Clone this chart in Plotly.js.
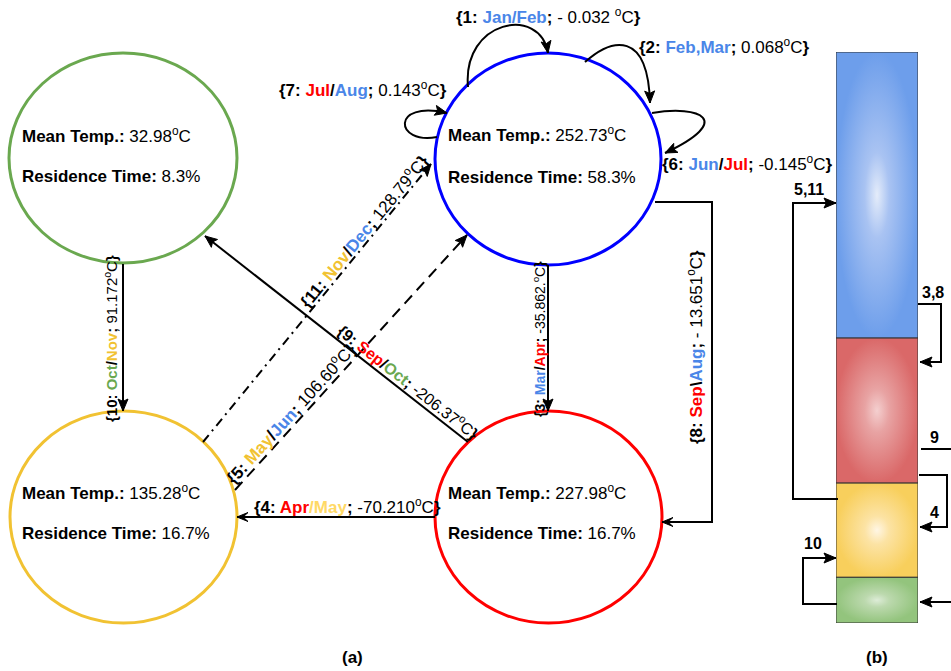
<!DOCTYPE html>
<html><head><meta charset="utf-8">
<script src="https://cdn.plot.ly/plotly-3.0.1.min.js"></script>
<style>html,body{margin:0;padding:0;background:#fff}#chart{width:951px;height:671px}</style>
</head><body><div id="chart"></div>
<script>
// ---------------- data ----------------
const stateKeys      = ['blue', 'red', 'yellow', 'green'];
const meanTemps      = ['252.73', '227.98', '135.28', '32.98'];
const residenceTimes = ['58.3', '16.7', '16.7', '8.3'];

const transIds    = [1, 2, 3, 4, 5, 6, 7, 8, 9, 10, 11];
const transFrom   = ['blue','blue','blue','red','yellow','blue','blue','blue','red','green','yellow'];
const transTo     = ['blue','blue','red','yellow','blue','blue','blue','red','green','yellow','blue'];
const transMonth1 = ['Jan','Feb','Mar','Apr','May','Jun','Jul','Sep','Sep','Oct','Nov'];
const transMonth2 = ['Feb','Mar','Apr','May','Jun','Jul','Aug','Aug','Oct','Nov','Dec'];
const transSep    = ['/', ',', '/', '/', '/', '/', '/', '\\', '/', '/', '/'];
const transDelta  = ['- 0.032 ', '0.068', '-35.862.', '-70.210', '106.60', '-0.145', '0.143', '- 13.651', '-206.37', '91.172', '128.79'];

const barStates = ['blue', 'red', 'yellow', 'green'];   // top to bottom
const barShares = [50.1, 25.4, 16.5, 8.0];               // % of bar height
const barArrowLabels = ['5,11', '3,8', '9', '4', '10'];
const panelLabels = ['(a)', '(b)'];

// ---------------- styles / layout geometry ----------------
const FONT = 'Arial, "Liberation Sans", sans-serif';
const stateColor = {blue:'#0000ff', red:'#ff0000', yellow:'#f1c232', green:'#6aa84f'};
const monthColor = {Jan:'#4a86e8',Feb:'#4a86e8',Mar:'#4a86e8',Apr:'#ff0000',May:'#f1c232',Jun:'#4a86e8',
                    Jul:'#ff0000',Aug:'#4a86e8',Sep:'#ff0000',Oct:'#6aa84f',Nov:'#f1c232',Dec:'#4a86e8'};
const monthOverride = {4: {m2:'#ffd966'}};
const nodeGeom = {
  blue:   {x0:435, x1:661, y0:53,  y1:265, tx:446, ty1:134, ty2:177},
  red:    {x0:435, x1:662, y0:411, y1:623, tx:446, ty1:492, ty2:533},
  yellow: {x0:10,  x1:237, y0:411, y1:623, tx:20,  ty1:492, ty2:533},
  green:  {x0:9,   x1:237, y0:53,  y1:263, tx:20,  ty1:135, ty2:176}
};
const gradient = {
  blue:   ['#e4ecfa', '#a9c3f2', '#6d9eeb'],
  red:    ['#f4cfcf', '#e8a3a3', '#da6868'],
  yellow: ['#fff6e4', '#fce3a4', '#f8cf5c'],
  green:  ['#ddecd7', '#bcd9ae', '#93c47d']
};
const edgeGeom = {
  1:  {path:'M468,87 C462,20 540,5 548,53', tip:[548,53], prev:[540,5]},
  2:  {path:'M585,62 C612,38 648,30 650,103', tip:[650,103], prev:[648,30]},
  3:  {path:'M548,265 L548,411', tip:[548,411], prev:[548,265]},
  4:  {path:'M435,517 L237,517', tip:[237,517], prev:[435,517], small:true},
  5:  {path:'M235,490 L467,235', tip:[467,235], prev:[235,490], dash:'11px,7px'},
  6:  {path:'M652,113 C700,105 735,120 665,153', tip:[665,153], prev:[735,120]},
  7:  {path:'M437,137 C395,145 390,100 447,113', tip:[447,113], prev:[390,100]},
  8:  {path:'M655,202 L712,202 L712,522 L662,522', tip:[662,522], prev:[712,522], small:true},
  9:  {path:'M468,442 L205,236', tip:[205,236], prev:[468,442]},
  10: {path:'M123,264 L123,411', tip:[123,411], prev:[123,264]},
  11: {path:'M203,442 L431,164', tip:[431,164], prev:[203,442], dash:'9px,5px,2px,5px'}
};
const labelGeom = {
  1:  {x:548, y:16,  xa:'center', size:17, angle:0},
  2:  {x:637, y:46,  xa:'left',   size:17, angle:0},
  3:  {x:539, y:339, xa:'center', size:14, angle:-90},
  4:  {x:347, y:506, xa:'center', size:17, angle:0},
  5:  {x:290, y:413, xa:'center', size:17, angle:-47.7},
  6:  {x:660, y:163, xa:'left',   size:17, angle:0},
  7:  {x:449, y:89,  xa:'right',  size:17, angle:0},
  8:  {x:695, y:347, xa:'center', size:17, angle:-90},
  9:  {x:408, y:381, xa:'center', size:16, angle:38.1},
  10: {x:110, y:339, xa:'center', size:15, angle:-90},
  11: {x:363, y:231, xa:'center', size:17, angle:-50.6}
};
const barPaths = [
  {path:'M838,499 L793,499 L793,203 L836,203', tip:[836,203], prev:[793,203], lab:[809,189]},
  {path:'M918,304 L941,304 L941,362 L920,362', tip:[920,362], prev:[941,362], lab:[933,292]},
  {path:'M921,449 L951,449', tip:null, lab:[934,437]},
  {path:'M919,475 L947,475 L947,527 L920,527', tip:[920,527], prev:[947,527], lab:[934,512]},
  {path:'M837,604 L803,604 L803,558 L836,558', tip:[836,558], prev:[803,558], lab:[813,543]},
  {path:'M951,602 L920,602', tip:[920,602], prev:[951,602], lab:null}
];

// ---------------- build ----------------
const shapes = [];
const annotations = [];

function arrowHead(tip, prev, small) {
  const dx = tip[0]-prev[0], dy = tip[1]-prev[1];
  const L = Math.hypot(dx, dy);
  const ux = dx/L, uy = dy/L, nx = -uy, ny = ux;
  const len = small ? 11 : 12, hw = small ? 4.5 : 5, notch = small ? 0.55 : 0.8;
  const bx = tip[0]-ux*len, by = tip[1]-uy*len;
  const mx = tip[0]-ux*len*notch, my = tip[1]-uy*len*notch;
  const f = v => v.toFixed(2);
  shapes.push({type:'path', xref:'x', yref:'y',
    path:'M'+f(tip[0])+','+f(tip[1])+' L'+f(bx+nx*hw)+','+f(by+ny*hw)+' L'+f(mx)+','+f(my)+
         ' L'+f(bx-nx*hw)+','+f(by-ny*hw)+' Z',
    fillcolor:'#000', line:{color:'#000', width:1}});
}

stateKeys.forEach((k, i) => {
  const g = nodeGeom[k];
  shapes.push({type:'circle', xref:'x', yref:'y', x0:g.x0, x1:g.x1, y0:g.y0, y1:g.y1,
               line:{color:stateColor[k], width:3}});
  annotations.push({x:g.tx, y:g.ty1, xref:'x', yref:'y', xanchor:'left', yanchor:'middle', showarrow:false,
    text:'<b>Mean Temp.:</b> ' + meanTemps[i] + '<sup>o</sup>C', font:{family:FONT, size:17, color:'#000'}});
  annotations.push({x:g.tx, y:g.ty2, xref:'x', yref:'y', xanchor:'left', yanchor:'middle', showarrow:false,
    text:'<b>Residence Time:</b> ' + residenceTimes[i] + '%', font:{family:FONT, size:17, color:'#000'}});
});

transIds.forEach((id, i) => {
  const e = edgeGeom[id];
  shapes.push({type:'path', xref:'x', yref:'y', path:e.path,
               line:{color:'#000', width:2, dash:e.dash||'solid'}});
  arrowHead(e.tip, e.prev, e.small);
  const m1 = transMonth1[i], m2 = transMonth2[i];
  const ov = monthOverride[id] || {};
  const c1 = ov.m1 || monthColor[m1], c2 = ov.m2 || monthColor[m2];
  const sepColor = (c1 === c2) ? c1 : (id === 4 ? c2 : '#000');
  const txt = '<b>{' + id + ': <span style="color:' + c1 + '">' + m1 + '</span>' +
              '<span style="color:' + sepColor + '">' + transSep[i] + '</span>' +
              '<span style="color:' + c2 + '">' + m2 + '</span>;</b> ' +
              transDelta[i] + '<sup>o</sup>C<b>}</b>';
  const lg = labelGeom[id];
  annotations.push({x:lg.x, y:lg.y, xref:'x', yref:'y', xanchor:lg.xa, yanchor:'middle',
    showarrow:false, textangle:lg.angle, text:txt, font:{family:FONT, size:lg.size, color:'#000'}});
});

const traces = [];
let segTop = 100;
barStates.forEach((k, i) => {
  const segBot = segTop - barShares[i];
  const g = gradient[k];
  traces.push({
    type:'scatter', mode:'lines', xaxis:'x2', yaxis:'y2',
    x:[0, 1, 1, 0, 0], y:[segBot, segBot, segTop, segTop, segBot],
    fill:'toself', fillcolor:g[2],
    fillgradient:{type:'radial', colorscale:[[0, g[0]], [0.3, g[1]], [1, g[2]]]},
    line:{color:'#333', width:1}, hoverinfo:'skip', showlegend:false
  });
  segTop = segBot;
});

barPaths.forEach((b, i) => {
  shapes.push({type:'path', xref:'x', yref:'y', path:b.path, line:{color:'#000', width:2}});
  if (b.tip) arrowHead(b.tip, b.prev, false);
  if (b.lab) annotations.push({x:b.lab[0], y:b.lab[1], xref:'x', yref:'y', showarrow:false,
    text:'<b>' + barArrowLabels[i] + '</b>', font:{family:FONT, size:16, color:'#000'}});
});

annotations.push({x:352, y:657, xref:'x', yref:'y', showarrow:false, text:'<b>' + panelLabels[0] + '</b>',
                  font:{family:FONT, size:17, color:'#000'}});
annotations.push({x:877, y:657, xref:'x', yref:'y', showarrow:false, text:'<b>' + panelLabels[1] + '</b>',
                  font:{family:FONT, size:17, color:'#000'}});

const layout = {
  width:951, height:671, margin:{l:0, r:0, t:0, b:0},
  paper_bgcolor:'#fff', plot_bgcolor:'rgba(0,0,0,0)', showlegend:false,
  xaxis:{range:[0,951], visible:false, fixedrange:true, domain:[0,1]},
  yaxis:{range:[671,0], visible:false, fixedrange:true, domain:[0,1]},
  xaxis2:{range:[0,1], visible:false, domain:[836/951, 918/951], anchor:'y2'},
  yaxis2:{range:[0,100], visible:false, domain:[(671-623)/671, (671-52)/671], anchor:'x2'},
  shapes:shapes, annotations:annotations
};
traces.unshift({type:'scatter', x:[0], y:[0], mode:'markers', marker:{opacity:0}, hoverinfo:'skip', showlegend:false});

Plotly.newPlot('chart', traces, layout, {staticPlot:true, displayModeBar:false});
</script></body></html>
